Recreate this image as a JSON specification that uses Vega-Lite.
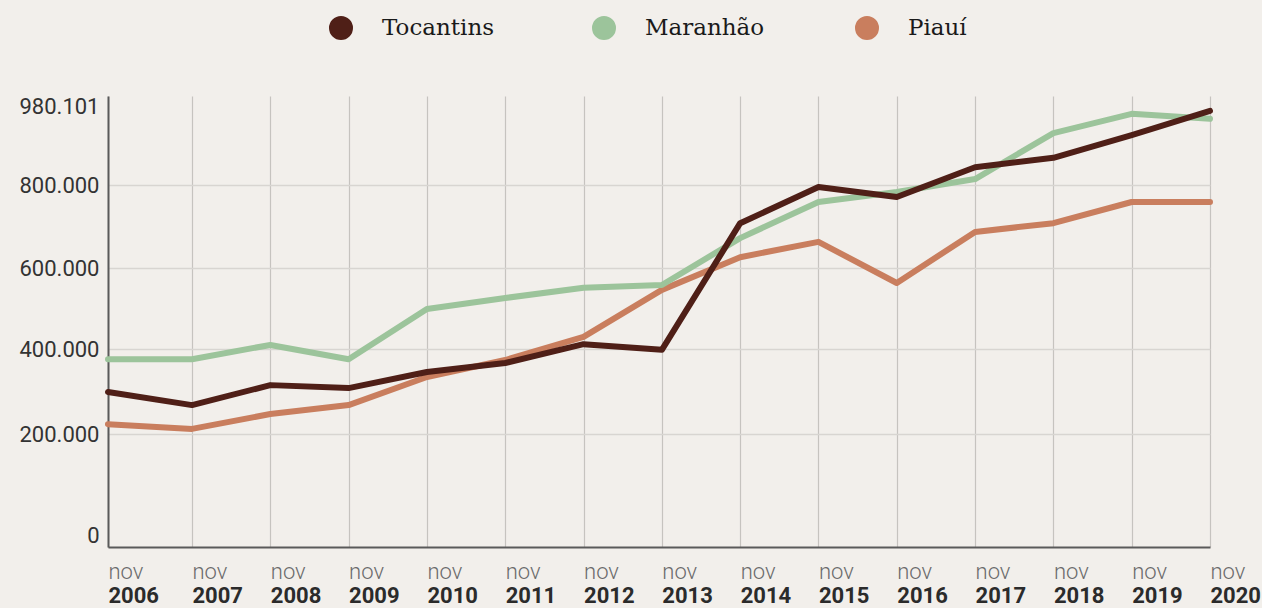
{
  "$schema": "https://vega.github.io/schema/vega-lite/v6.json",
  "width": 1102,
  "height": 451,
  "autosize": {"type": "none"},
  "padding": {"left": 108, "top": 96, "right": 52, "bottom": 61},
  "background": "#f2efeb",
  "config": {"view": {"stroke": null}, "font": "Roboto"},
  "data": {
    "values": [
      {"ano": 2006, "estado": "Piauí", "valor": 223000},
      {"ano": 2007, "estado": "Piauí", "valor": 212000},
      {"ano": 2008, "estado": "Piauí", "valor": 247000},
      {"ano": 2009, "estado": "Piauí", "valor": 268000},
      {"ano": 2010, "estado": "Piauí", "valor": 334000},
      {"ano": 2011, "estado": "Piauí", "valor": 374000},
      {"ano": 2012, "estado": "Piauí", "valor": 430000},
      {"ano": 2013, "estado": "Piauí", "valor": 546000},
      {"ano": 2014, "estado": "Piauí", "valor": 626000},
      {"ano": 2015, "estado": "Piauí", "valor": 663000},
      {"ano": 2016, "estado": "Piauí", "valor": 563000},
      {"ano": 2017, "estado": "Piauí", "valor": 687000},
      {"ano": 2018, "estado": "Piauí", "valor": 708000},
      {"ano": 2019, "estado": "Piauí", "valor": 759000},
      {"ano": 2020, "estado": "Piauí", "valor": 759000},
      {"ano": 2006, "estado": "Maranhão", "valor": 376000},
      {"ano": 2007, "estado": "Maranhão", "valor": 376000},
      {"ano": 2008, "estado": "Maranhão", "valor": 410000},
      {"ano": 2009, "estado": "Maranhão", "valor": 376000},
      {"ano": 2010, "estado": "Maranhão", "valor": 499000},
      {"ano": 2011, "estado": "Maranhão", "valor": 526000},
      {"ano": 2012, "estado": "Maranhão", "valor": 551000},
      {"ano": 2013, "estado": "Maranhão", "valor": 558000},
      {"ano": 2014, "estado": "Maranhão", "valor": 672000},
      {"ano": 2015, "estado": "Maranhão", "valor": 759000},
      {"ano": 2016, "estado": "Maranhão", "valor": 783000},
      {"ano": 2017, "estado": "Maranhão", "valor": 812000},
      {"ano": 2018, "estado": "Maranhão", "valor": 905000},
      {"ano": 2019, "estado": "Maranhão", "valor": 944000},
      {"ano": 2020, "estado": "Maranhão", "valor": 934000},
      {"ano": 2006, "estado": "Tocantins", "valor": 299000},
      {"ano": 2007, "estado": "Tocantins", "valor": 268000},
      {"ano": 2008, "estado": "Tocantins", "valor": 315000},
      {"ano": 2009, "estado": "Tocantins", "valor": 308000},
      {"ano": 2010, "estado": "Tocantins", "valor": 346000},
      {"ano": 2011, "estado": "Tocantins", "valor": 367000},
      {"ano": 2012, "estado": "Tocantins", "valor": 412000},
      {"ano": 2013, "estado": "Tocantins", "valor": 398000},
      {"ano": 2014, "estado": "Tocantins", "valor": 708000},
      {"ano": 2015, "estado": "Tocantins", "valor": 795000},
      {"ano": 2016, "estado": "Tocantins", "valor": 771000},
      {"ano": 2017, "estado": "Tocantins", "valor": 836000},
      {"ano": 2018, "estado": "Tocantins", "valor": 855000},
      {"ano": 2019, "estado": "Tocantins", "valor": 901000},
      {"ano": 2020, "estado": "Tocantins", "valor": 950000}
    ]
  },
  "layer": [
    {
      "mark": {"type": "line", "strokeWidth": 6, "strokeCap": "round", "strokeJoin": "round"},
      "encoding": {
        "x": {
          "field": "ano",
          "type": "quantitative",
          "scale": {"domain": [2006, 2007, 2020], "range": [0, 84, 1102], "nice": false, "zero": false},
          "axis": {
            "orient": "bottom",
            "title": null,
            "values": [2006, 2007, 2008, 2009, 2010, 2011, 2012, 2013, 2014, 2015, 2016, 2017, 2018, 2019, 2020],
            "labelExpr": "'nov'",
            "labelFont": "Roboto",
            "labelFontSize": 22,
            "labelFontWeight": 300,
            "labelColor": "#6b6b6b",
            "labelAlign": "left",
            "labelDx": -4,
            "labelBaseline": "alphabetic",
            "labelPadding": 31,
            "labelOverlap": false,
            "labelFlush": false,
            "ticks": false,
            "tickSize": 0,
            "domain": true,
            "domainColor": "#5a5a5a",
            "domainWidth": 2,
            "grid": true,
            "gridColor": "#c6c3bf",
            "gridWidth": 1.2
          }
        },
        "y": {
          "field": "valor",
          "type": "quantitative",
          "scale": {"domain": [0, 200000, 400000, 600000, 800000, 980101], "range": [451, 338, 253, 172, 89, 0], "nice": false, "zero": false},
          "axis": {
            "title": null,
            "values": [0, 200000, 400000, 600000, 800000, 980101],
            "labelExpr": "replace(format(datum.value, ','), regexp(',', 'g'), '.')",
            "labelFont": "Roboto",
            "labelFontSize": 22,
            "labelColor": "#333333",
            "labelPadding": 9,
            "labelFlush": true,
            "labelOverlap": false,
            "ticks": false,
            "tickSize": 0,
            "domain": true,
            "domainColor": "#5a5a5a",
            "domainWidth": 2,
            "grid": true,
            "gridColor": "#d8d5d1",
            "gridWidth": 1.5,
            "gridOpacity": {"condition": {"test": "datum.value > 900000 || datum.value == 0", "value": 0}, "value": 1}
          }
        },
        "color": {
          "field": "estado",
          "type": "nominal",
          "scale": {"domain": ["Tocantins", "Maranhão", "Piauí"], "range": ["#4f1f17", "#9cc49b", "#c97e5e"]},
          "legend": {
            "orient": "none",
            "legendX": 221,
            "legendY": -80,
            "direction": "horizontal",
            "title": null,
            "symbolType": "circle",
            "symbolSize": 144,
            "symbolStrokeWidth": 12,
            "labelFont": "DejaVu Serif",
            "labelFontSize": 23,
            "labelColor": "#1a1a1a",
            "labelOffset": 29,
            "columnPadding": 72,
            "gridAlign": "all"
          }
        }
      }
    },
    {
      "mark": {"type": "line", "opacity": 0},
      "encoding": {
        "x": {
          "field": "ano",
          "type": "quantitative",
          "axis": {
            "orient": "bottom",
            "title": null,
            "values": [2006, 2007, 2008, 2009, 2010, 2011, 2012, 2013, 2014, 2015, 2016, 2017, 2018, 2019, 2020],
            "labelExpr": "'' + datum.value",
            "labelFont": "Roboto",
            "labelFontSize": 22,
            "labelFontWeight": "bold",
            "labelColor": "#2b2b2b",
            "labelAlign": "left",
            "labelDx": -4,
            "labelBaseline": "alphabetic",
            "labelPadding": 55,
            "labelOverlap": false,
            "labelFlush": false,
            "ticks": false,
            "tickSize": 0,
            "domain": false,
            "grid": false
          }
        },
        "y": {"field": "valor", "type": "quantitative"},
        "detail": {"field": "estado", "type": "nominal"}
      }
    }
  ],
  "resolve": {"axis": {"x": "independent"}}
}
